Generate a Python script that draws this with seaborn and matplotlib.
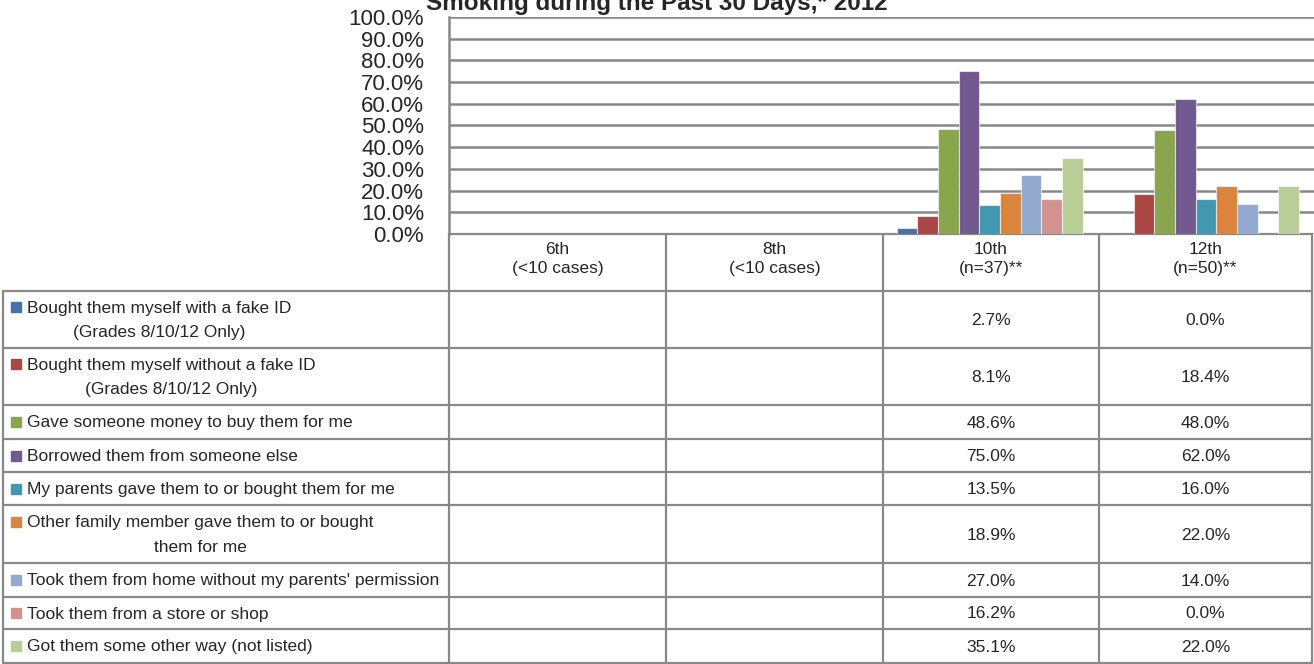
"""Sources of cigarettes among past-30-day smokers, by grade (2012)."""

import matplotlib

matplotlib.use("Agg")
import matplotlib.pyplot as plt
import pandas as pd
import seaborn as sns
from matplotlib import font_manager
from matplotlib.patches import Rectangle

# ---- data ------------------------------------------------------------------
TITLE = "Smoking during the Past 30 Days,* 2012"
GRADES = ["6th", "8th", "10th", "12th"]
GRADE_NOTES = ["(<10 cases)", "(<10 cases)", "(n=37)**", "(n=50)**"]
METHODS = [
    "Bought them myself with a fake ID\n(Grades 8/10/12 Only)",
    "Bought them myself without a fake ID\n(Grades 8/10/12 Only)",
    "Gave someone money to buy them for me",
    "Borrowed them from someone else",
    "My parents gave them to or bought them for me",
    "Other family member gave them to or bought\nthem for me",
    "Took them from home without my parents' permission",
    "Took them from a store or shop",
    "Got them some other way (not listed)",
]
COLORS = ["#4572A7", "#AA4643", "#89A54E", "#71588F", "#4198AF",
          "#DB843D", "#93A9CF", "#D19392", "#B9CD96"]
PCT_10TH = [2.7, 8.1, 48.6, 75.0, 13.5, 18.9, 27.0, 16.2, 35.1]
PCT_12TH = [0.0, 18.4, 48.0, 62.0, 16.0, 22.0, 14.0, 0.0, 22.0]
Y_TICKS = [0, 10, 20, 30, 40, 50, 60, 70, 80, 90, 100]

# grades with enough cases to report
reported = {"10th": PCT_10TH, "12th": PCT_12TH}
df = pd.DataFrame(
    [(g, m, v) for g, vals in reported.items() for m, v in zip(METHODS, vals)],
    columns=["grade", "method", "pct"],
)

# ---- layout (pixels) -------------------------------------------------------
W, H = 1314, 664
PLOT_TOP, PLOT_BOTTOM = 17, 234
COL_EDGES = [449, 666, 883, 1099, 1312]
ROW_EDGES = [291, 348, 405, 439, 472, 505, 563, 597, 629, 663]
LINE = "#888888"

sns.set_style("white")
names = {f.name for f in font_manager.fontManager.ttflist}
FONT = "Liberation Sans Narrow" if "Liberation Sans Narrow" in names else "Liberation Sans"
plt.rcParams["font.family"] = [FONT, "DejaVu Sans"]

fig = plt.figure(figsize=(W / 100, H / 100), dpi=100)

# ---- bar chart -------------------------------------------------------------
ax = fig.add_axes([COL_EDGES[0] / W, 1 - PLOT_BOTTOM / H,
                   (W - COL_EDGES[0]) / W, (PLOT_BOTTOM - PLOT_TOP) / H])
sns.barplot(data=df, x="grade", y="pct", hue="method", order=GRADES,
            hue_order=METHODS, palette=COLORS, saturation=1, width=0.86,
            errorbar=None, legend=False, edgecolor=(1, 1, 1, 0.6),
            linewidth=0.8, ax=ax, zorder=3)
ax.set_xlim(-0.5, 3.5)
ax.set_ylim(0, 100)
ax.set_yticks(Y_TICKS)
ax.set_yticklabels([f"{v:.1f}%" for v in Y_TICKS], fontsize=16)
ax.tick_params(axis="y", length=0, pad=18)
ax.set_xticks([])
ax.set_xlabel("")
ax.set_ylabel("")
ax.yaxis.grid(True, color=LINE, linewidth=1.8, zorder=0)
ax.set_axisbelow(True)
for side in ("top", "right", "bottom"):
    ax.spines[side].set_visible(False)
ax.spines["left"].set_color(LINE)
ax.spines["left"].set_linewidth(1.8)
ax.patch.set_alpha(0)

# ---- data table beneath ----------------------------------------------------
tab = fig.add_axes([0, 0, 1, 1], zorder=-1)
tab.set_xlim(0, W)
tab.set_ylim(H, 0)
tab.axis("off")

lw = 1.6
for y in ROW_EDGES:
    tab.plot([3, COL_EDGES[-1]], [y, y], color=LINE, lw=lw)
tab.plot([COL_EDGES[0], COL_EDGES[-1]], [PLOT_BOTTOM, PLOT_BOTTOM], color=LINE, lw=lw)
tab.plot([3, 3], [ROW_EDGES[0], ROW_EDGES[-1]], color=LINE, lw=lw)
for x in COL_EDGES:
    tab.plot([x, x], [PLOT_BOTTOM, ROW_EDGES[-1]], color=LINE, lw=lw)

centers = [(a + b) / 2 for a, b in zip(COL_EDGES[:-1], COL_EDGES[1:])]
for cx, grade, note in zip(centers, GRADES, GRADE_NOTES):
    tab.text(cx, 259, f"{grade}\n{note}", ha="center", va="center",
             multialignment="center", fontsize=12.5, linespacing=1.3)

gap = 25  # px between wrapped label lines
for i, (label, color) in enumerate(zip(METHODS, COLORS)):
    top, bottom = ROW_EDGES[i], ROW_EDGES[i + 1]
    cy = (top + bottom) / 2
    nlines = label.count("\n") + 1
    first = cy - (nlines - 1) * gap / 2
    # wrapped lines are centred under one another, block starts after the key
    tab.text(27, cy + 1, label, ha="left", va="center",
             multialignment="center", fontsize=12.5, linespacing=1.8)
    tab.add_patch(Rectangle((11, first - 5), 10, 10, color=color))
    for g, vals in reported.items():
        cx = centers[GRADES.index(g)]
        tab.text(cx, cy + 1, f"{vals[i]:.1f}%", ha="center", va="center",
                 fontsize=12.5)

# title sits partly above the canvas, as in the source export
fig.text(0.5, 1 - 10 / H, TITLE, ha="center", va="baseline",
         fontsize=17.5, fontweight="bold")

fig.savefig("out.png", dpi=100)
